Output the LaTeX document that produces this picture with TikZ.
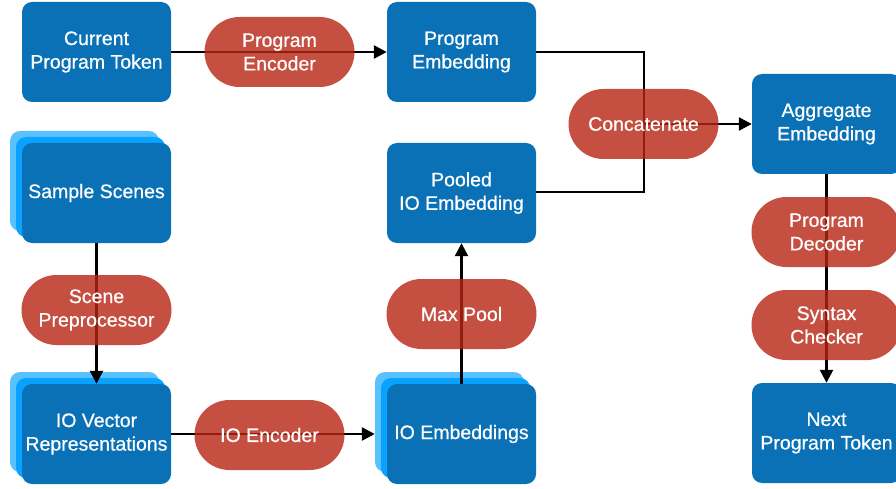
\documentclass[tikz,border=0pt]{standalone}
\usepackage{fontspec}
\newfontfamily\lblfont{Liberation Sans}[BoldFont={Liberation Sans}, BoldFeatures={FakeBold=0.6}]
\usetikzlibrary{arrows.meta,shapes.misc}
\definecolor{boxblue}{RGB}{10,113,182}
\definecolor{stackmid}{RGB}{10,162,255}
\definecolor{stackback}{RGB}{90,193,255}
\definecolor{pillred}{RGB}{182,36,19}
\tikzset{
  lbl/.style={font=\lblfont\bfseries\fontsize{19.5}{23.5}\selectfont, text=white, align=center},
  box/.style={lbl, fill=boxblue, rounded corners=10pt, minimum width=149pt,
              minimum height=100pt, inner sep=0pt},
  layer/.style={box, fill=#1},
  pill/.style={lbl, fill=pillred, fill opacity=0.8, text opacity=1,
               rounded rectangle, minimum width=150pt, minimum height=70pt,
               inner sep=0pt},
  link/.style={line width=2.5pt, black},
  arr/.style={link, -{Triangle[length=13pt,width=13pt]}},
}
\begin{document}
\begin{tikzpicture}[x=1pt,y=-1pt]
\useasboundingbox (0,0) rectangle (896,489);
\clip (0,0) rectangle (896,489);

% top row
\node[box] (cur)  at (96.5,52)  {Current\\Program Token};
\node[box] (pemb) at (461.5,52) {Program\\Embedding};

% stacked inputs on the left
\node[layer=stackback] (sampB) at (84.5,181) {};
\node[layer=stackmid]  (sampM) at (90.5,187) {};
\node[box] (samp) at (96.5,193) {Sample Scenes};

\node[layer=stackback] (iovecB) at (84.5,422) {};
\node[layer=stackmid]  (iovecM) at (90.5,428) {};
\node[box] (iovec) at (96.5,434) {IO Vector\\Representations};

\node[layer=stackback] (ioembB) at (449.5,422) {};
\node[layer=stackmid]  (ioembM) at (455.5,428) {};
\node[box] (ioemb) at (461.5,434) {IO Embeddings};

\node[box] (pooled) at (461.5,193) {Pooled\\IO Embedding};

% right column
\node[box] (agg)  at (826.5,124) {Aggregate\\Embedding};
\node[box] (next) at (826.5,433) {Next\\Program Token};

% connectors
\coordinate (jtop) at (644,52);
\coordinate (jmid) at (644,124);
\coordinate (jbot) at (644,192);
\draw[arr] (cur.east) -- (pemb.west);
\draw[link, line join=miter] (pemb.east) -- (jtop) -- (jbot) -- (pooled.east |- jbot);
\draw[arr] (jmid) -- (agg.west);
\draw[arr] (samp.south) -- (iovec.north);
\draw[arr] (iovec.east) -- (iovec.east -| ioembB.west);
\draw[arr] (ioemb.north) -- (pooled.south);
\draw[arr] (agg.south) -- (next.north);

% processing steps
\node[pill] (penc)   at (279.5,52)  {Program\\Encoder};
\node[pill] (concat) at (643.5,124) {Concatenate};
\node[pill] (prep)   at (96.5,310)  {Scene\\Preprocessor};
\node[pill] (ioenc)  at (269.5,435) {IO Encoder};
\node[pill] (maxp)   at (461.5,314) {Max Pool};
\node[pill] (pdec)   at (826.5,232) {Program\\Decoder};
\node[pill] (synt)   at (826.5,325) {Syntax\\Checker};
\end{tikzpicture}
\end{document}
